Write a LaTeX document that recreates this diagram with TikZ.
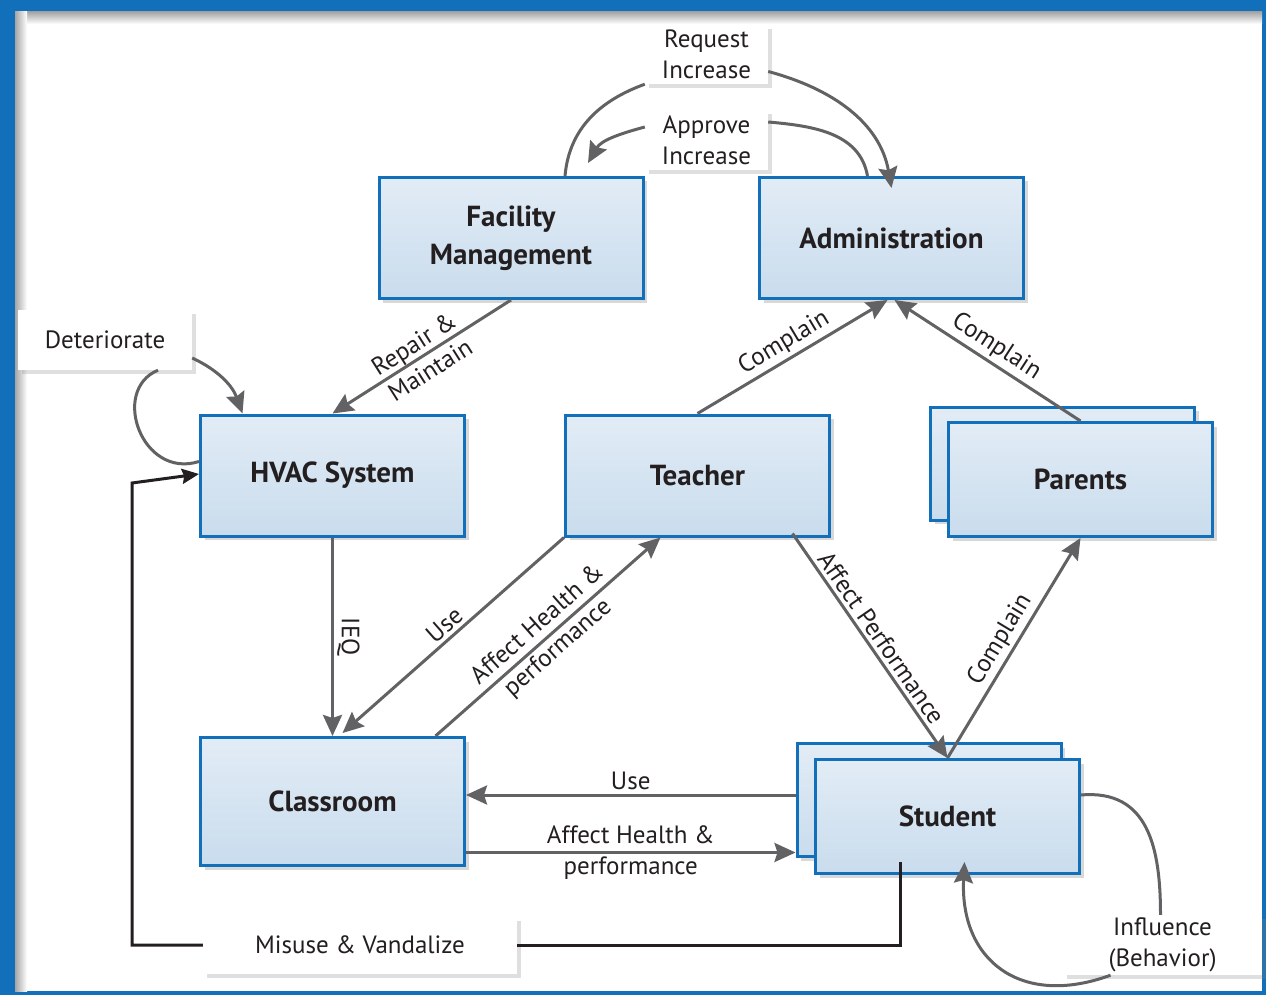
\documentclass[tikz,border=0pt]{standalone}
\usepackage{fontspec}
\setmainfont{PT Sans}
\usetikzlibrary{arrows.meta, shadows, calc}
\definecolor{frameblue}{RGB}{18,112,186}
\definecolor{boxtop}{RGB}{226,236,246}
\definecolor{boxbot}{RGB}{201,220,237}
\definecolor{linegray}{RGB}{98,98,100}
\definecolor{inkblack}{RGB}{35,31,32}

\begin{document}
\begin{tikzpicture}[x=1pt, y=1pt,
  >={Stealth[length=21pt, width=19pt, inset=3pt]},
  every node/.style={font=\fontsize{25}{31}\selectfont, text=inkblack},
  unit/.style={draw=frameblue, line width=3pt, top color=boxtop, bottom color=boxbot,
    minimum width=264pt, minimum height=121pt, align=center,
    font=\fontsize{29}{38}\selectfont\bfseries,
    drop shadow={shadow xshift=4pt, shadow yshift=-4pt, opacity=0.3}},
  tag/.style={fill=white, align=center, inner sep=0pt,
    drop shadow={shadow xshift=4pt, shadow yshift=-4pt, opacity=0.25}},
  link/.style={draw=linegray, line width=3pt},
  flow/.style={link, ->},
  misuse/.style={draw=inkblack, line width=3pt}]

  \useasboundingbox (0,0) rectangle (1266,-995);
  \fill[frameblue] (0,0) rectangle (1266,-995);
  \fill[white] (15,-12) rectangle (1262,-991);
  \shade[top color=black!35, bottom color=white] (15,-12) rectangle (1262,-24);
  \shade[left color=black!35, right color=white] (15,-12) rectangle (27,-991);

  \node[unit] (facility) at (511,-238) {Facility\\Management};
  \node[unit] (administration) at (891.5,-238) {Administration};
  \node[unit] (hvac) at (332.5,-475.5) {HVAC System};
  \node[unit] (teacher) at (697.5,-475.5) {Teacher};
  \node[unit, minimum height=113pt] (parentsback) at (1062.5,-463.5) {};
  \node[unit, minimum height=114pt] (parents) at (1080.5,-479.5) {Parents};
  \node[unit, minimum height=128pt] (classroom) at (332.5,-801.5) {Classroom};
  \node[unit, minimum height=113pt] (studentback) at (929,-800) {};
  \node[unit, minimum height=114pt] (student) at (947.5,-816.5) {Student};

  \node[tag, minimum width=123pt, minimum height=59pt] (request) at (706.5,-54.5) {Request\\Increase};
  \node[tag, minimum width=123pt, minimum height=60pt] (approve) at (706.5,-140) {Approve\\Increase};
  \node[tag, minimum width=174pt, minimum height=60pt] (deteriorate) at (105,-340) {Deteriorate};
  \node[tag, minimum width=314pt, minimum height=57pt] (vandal) at (360,-945) {Misuse \& Vandalize};
  \node[tag, minimum width=199pt, minimum height=60pt] (influence) at (1162.5,-945) {Influence\\(Behavior)};
  \coordinate (approvetip) at (588,-163);
  \coordinate (leftbend) at (132,-483);

  \draw[link] ([xshift=54]facility.north) to[out=85, in=200] (request.south west);
  \draw[flow] ([yshift=-17]request.east) to[out=-15, in=100] ([yshift=-12]administration.north);
  \draw[link] ([xshift=-24]administration.north) to[out=100, in=-5] ([yshift=18]approve.east);
  \draw[flow] ([yshift=13]approve.west) to[out=195, in=60] (approvetip);

  \draw[link] ([yshift=14]hvac.west) .. controls +(-57,-18) and +(-48,-20) .. ([xshift=53]deteriorate.south);
  \draw[flow] ([yshift=-18]deteriorate.east) to[out=-25, in=110] ([xshift=-90]hvac.north);

  \draw[flow] (facility.south) -- (hvac.north)
    node[midway, sloped, align=center] {Repair \&\\Maintain};
  \draw[flow] (teacher.north) -- ([xshift=-4]administration.south)
    node[midway, sloped, above] {Complain};
  \draw[flow] (parents.north) -- ([xshift=3]administration.south)
    node[midway, sloped, above] {Complain};

  \draw[flow] (hvac.south) -- (classroom.north)
    node[midway, rotate=-90, anchor=south] {IEQ};
  \draw[flow] (teacher.south west) -- ([xshift=10,yshift=3]classroom.north)
    node[midway, sloped, above] {Use};
  \draw[flow] ([xshift=103]classroom.north) -- ([xshift=-37]teacher.south)
    node[midway, sloped, align=center] {Affect Health \&\\performance};
  \draw[flow] ([xshift=95,yshift=4]teacher.south) -- (student.north)
    node[midway, sloped, above] {Affect Performance};
  \draw[flow] (student.north) -- (parents.south)
    node[midway, sloped, above] {Complain};

  \draw[flow] ([yshift=5]studentback.west) -- ([yshift=5]studentback.west -| classroom.east)
    node[midway, above] {Use};
  \draw[flow] ([yshift=-51]classroom.east) -- ([yshift=-51]classroom.east -| studentback.west)
    node[midway, align=center] {Affect Health \&\\performance};

  \draw[link] ([yshift=21.5]student.east) to[out=5, in=90, looseness=1.2] ([xshift=-2]influence.north);
  \draw[flow] ([xshift=-52]influence.south) .. controls +(-90,-33) and +(-5,-98) .. ([xshift=17,yshift=13]student.south);

  \draw[misuse] ([xshift=-47,yshift=13]student.south) |- (vandal.east);
  \draw[misuse, -{Stealth[length=17pt, width=15pt, inset=2pt]}] (vandal.west) -| (leftbend) -- ([yshift=1.5]hvac.west);
\end{tikzpicture}
\end{document}
